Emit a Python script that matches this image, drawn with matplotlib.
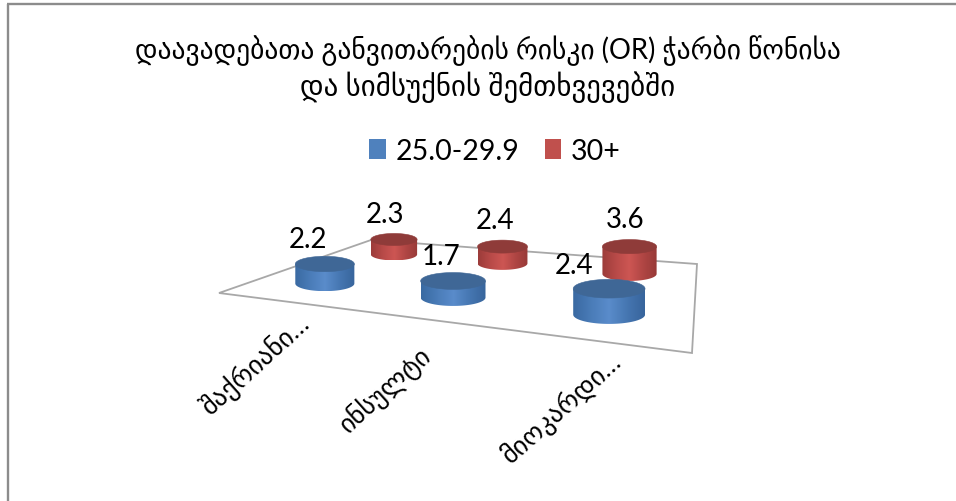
import numpy as np
import matplotlib
matplotlib.use("Agg")
import matplotlib.pyplot as plt
from matplotlib.colors import LinearSegmentedColormap
from matplotlib.patches import Patch, Polygon

# Odds ratios by condition and BMI group
title_lines = ["დაავადებათა განვითარების რისკი (OR) ჭარბი წონისა",
               "და სიმსუქნის შემთხვევებში"]
categories = ["შაქრიანი…", "ინსულტი", "მიოკარდი…"]
series_names = ["25.0-29.9", "30+"]
overweight = [2.2, 1.7, 2.4]
obese = [2.3, 2.4, 3.6]

FAMILY = ["Lato", "DejaVu Sans"]
W, H = 956, 502
fig = plt.figure(figsize=(W / 100, H / 100), dpi=100)
ax = fig.add_axes([0, 0, 1, 1])
ax.set_xlim(0, W)
ax.set_ylim(H, 0)
ax.axis("off")

# Perspective map from the unit floor square to the canvas
floor_px = np.array([(219, 294), (692, 354), (697, 265), (371, 241)], float)
floor_uv = np.array([(0, 0), (1, 0), (1, 1), (0, 1)], float)
rows = []
for (u, v), (x, y) in zip(floor_uv, floor_px):
    rows.append([u, v, 1, 0, 0, 0, -u * x, -v * x, -x])
    rows.append([0, 0, 0, u, v, 1, -u * y, -v * y, -y])
_, _, vt = np.linalg.svd(np.array(rows))
HOM = vt[-1].reshape(3, 3)


def project(u, v):
    p = HOM @ np.array([u, v, 1.0])
    return p[0] / p[2], p[1] / p[2], 1.0 / abs(p[2])


# Frame of the chart area: left and top edges only
ax.plot([8, 8], [H, 5], color="#8c8c8c", lw=1.7, solid_capstyle="butt")
ax.plot([7, W], [5, 5], color="#8c8c8c", lw=1.7, solid_capstyle="butt")

# Floor outline
ax.add_patch(Polygon(floor_px, closed=True, fill=False, ec="#a8a8a8", lw=1.3, zorder=1))

side_blue = LinearSegmentedColormap.from_list("b", ["#3a6aa2", "#4a7cb8", "#5a8ccb", "#4677b2", "#38659c"])
side_red = LinearSegmentedColormap.from_list("r", ["#9c3c3a", "#b84a48", "#cd5653", "#b04644", "#983a38"])
TOPS = ["#3f6796", "#8f3b39"]
SIDES = [side_blue, side_red]

DEPTH = [0.23, 0.745]
U_SHIFT = [0.012, 0.012]
HEIGHT_K = [0.15, 0.14]
BASE_WIDTH = [57.3, 54.9]
ref_scale = project(0.5, 0.5)[2]


def cylinder(i, s, value, zorder):
    u = (i + 0.5) / 3 + U_SHIFT[s]
    x, y, scale = project(u, DEPTH[s])
    width = BASE_WIDTH[s] * scale / ref_scale
    rx = width / 2
    ry = width * 0.13
    h = HEIGHT_K[s] * width * value
    top = y - h
    t = np.linspace(0, np.pi, 60)
    lower = np.column_stack([x + rx * np.cos(t), y + ry * np.sin(t)])
    side = np.vstack([[(x + rx, top)], lower, [(x - rx, top)]])
    clip = Polygon(side, closed=True, transform=ax.transData, fc="none", ec="none")
    ax.add_patch(clip)
    im = ax.imshow(np.linspace(0, 1, 64)[None, :], cmap=SIDES[s], extent=(x - rx, x + rx, y + ry, top),
                   aspect="auto", interpolation="bilinear", zorder=zorder)
    im.set_clip_path(clip)
    tt = np.linspace(0, 2 * np.pi, 80)
    ax.add_patch(Polygon(np.column_stack([x + rx * np.cos(tt), top + ry * np.sin(tt)]),
                         closed=True, fc=TOPS[s], ec=TOPS[s], lw=0.4, zorder=zorder + 0.1))
    return x, top


label_shift = {(0, 0): (-17, -25), (0, 1): (-9, -25), (1, 0): (-12, -25),
               (1, 1): (-7, -27), (2, 0): (-35, -24), (2, 1): (-4, -28)}
tops = {}
for s, vals in reversed(list(enumerate([overweight, obese]))):
    for i, val in enumerate(vals):
        tops[(i, s)] = cylinder(i, s, val, zorder=3 + (1 - s) + i * 0.01)
for s, vals in enumerate([overweight, obese]):
    for i, val in enumerate(vals):
        x, top = tops[(i, s)]
        dx, dy = label_shift[(i, s)]
        ax.text(x + dx, top + dy, f"{val:.1f}", ha="center", va="center",
                fontsize=20, family=FAMILY, color="black", zorder=8)

# Category labels, angled under the front edge
ends = [(306, 320), (428, 352), (618, 358)]
for (x, y), name in zip(ends, categories):
    ax.text(x, y, name, rotation=42, rotation_mode="anchor", ha="right", va="center",
            fontsize=19, family=FAMILY, color="black")

# Title
for y, size, line in zip([51, 87], [19.8, 20.8], title_lines):
    ax.text(488, y, line, ha="center", va="center", fontsize=size, family=FAMILY, color="black")

# Legend
handles = [Patch(fc="#4f81bd", label=series_names[0]), Patch(fc="#c0504d", label=series_names[1])]
leg = ax.legend(handles=handles, loc="center", bbox_to_anchor=(495 / W, 1 - 152 / H), ncol=2,
                frameon=False, handlelength=0.58, handleheight=0.65, handletextpad=0.35,
                columnspacing=0.88, prop={"family": FAMILY, "size": 20.5})

ax.set_xlim(0, W)
ax.set_ylim(H, 0)
fig.savefig("out.png", dpi=100)
